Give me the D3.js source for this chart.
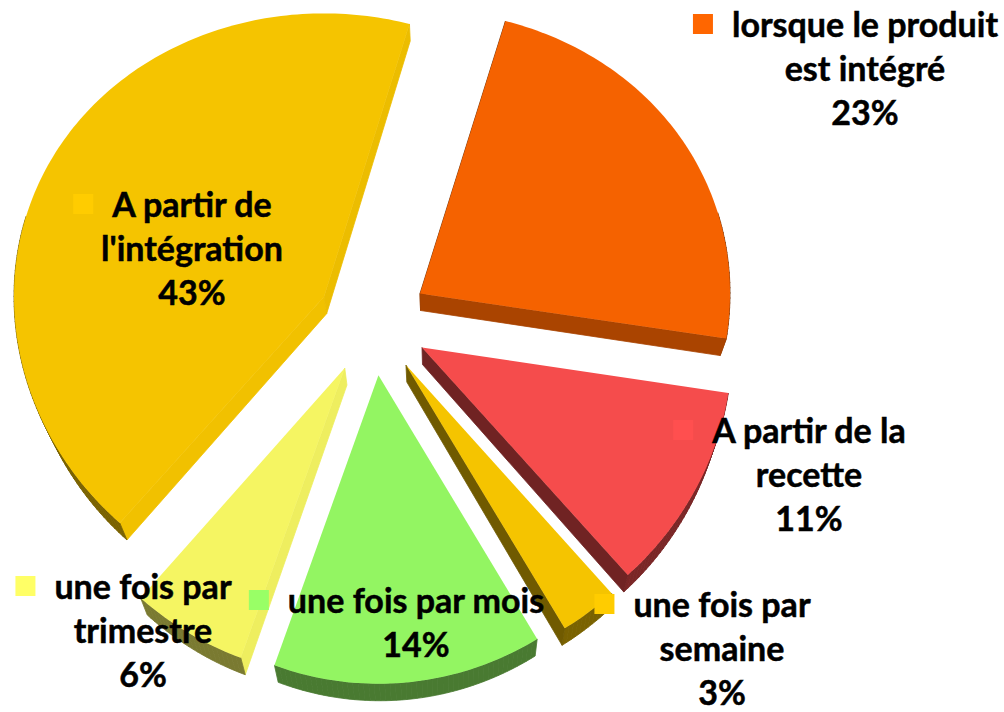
<!DOCTYPE html>
<meta charset="utf-8">
<script src="https://d3js.org/d3.v7.min.js"></script>
<style>
    body { margin: 0; background: #fff; }
    .lbl { font-family: Lato, "Liberation Sans", sans-serif; font-weight: bold; font-size: 34px; fill: #000;
           stroke: #000; stroke-width: 0.5px; }
</style>
<div id="chart"></div>
<script>
// data, in the pie's clockwise order starting near 12 o'clock
const categories = ["lorsque le produit est intégré", "A partir de la recette", "une fois par semaine",
                    "une fois par mois", "une fois par trimestre", "A partir de l'intégration"];
const values = [23, 11, 3, 14, 6, 43];
const colors = ["#FF6600", "#FF4F4F", "#FFCC00", "#99FF66", "#FFFF66", "#FFCC00"];

// where each category label breaks into lines
const wraps = [["lorsque le produit", "est intégré"], ["A partir de la", "recette"], ["une fois par", "semaine"],
               ["une fois par mois"], ["une fois par", "trimestre"], ["A partir de", "l'intégration"]];
// label anchor: centre x of the text, baseline of first line
const labelPos = [[865, 37], [809, 443], [722, 617], [416, 613], [143, 599], [192, 217]];

const width = 1004, height = 712;
const cx = 373, cy = 322, rx = 310, ryMid = 295, ryBend = 10;
const explode = 0.18, depth = 17, shrink = 0.978, vanishX = 445;
const start = 16 * Math.PI / 180;
const lineGap = 44;

const data = categories.map((c, i) => ({ name: c, value: values[i], color: colors[i], lines: wraps[i], pos: labelPos[i] }));

const pie = d3.pie().sort(null).value(d => d.value).startAngle(start).endAngle(start + 2 * Math.PI);
const arcs = pie(data);

// tilted disc -> screen (slightly bigger towards the front)
function project(u, v) {
    return [cx + rx * u, cy + ryMid * v + ryBend * v * v];
}
// bottom face: pushed down and pulled a bit towards the vanishing line
function lower(p) {
    return [vanishX + (p[0] - vanishX) * shrink, p[1] + depth];
}

function slicePoints(a) {
    const mid = (a.startAngle + a.endAngle) / 2;
    const ox = explode * Math.sin(mid), oy = -explode * Math.cos(mid);
    const pts = [project(ox, oy)];
    const n = Math.max(2, Math.ceil((a.endAngle - a.startAngle) / (Math.PI / 180)));
    for (let k = 0; k <= n; k++) {
        const t = a.startAngle + (a.endAngle - a.startAngle) * k / n;
        pts.push(project(ox + Math.sin(t), oy - Math.cos(t)));
    }
    return pts;
}

function shade(color, f) {
    const c = d3.rgb(color);
    return d3.rgb(c.r * f, c.g * f, c.b * f).formatHex();
}

const svg = d3.select("#chart").append("svg")
    .attr("width", width)
    .attr("height", height);

const line = d3.line();
const sides = svg.append("g").attr("class", "sides");
const tops = svg.append("g").attr("class", "tops");

arcs.forEach(a => {
    const pts = slicePoints(a);
    // side walls, one quad per edge segment
    for (let k = 0; k < pts.length; k++) {
        const p1 = pts[k], p2 = pts[(k + 1) % pts.length];
        const dx = p2[0] - p1[0], dy = p2[1] - p1[1];
        const len = Math.hypot(dx, dy);
        if (len < 0.01) continue;
        const nx = dy / len, ny = -dx / len;
        if (ny < -0.3) continue;
        const radial = (k === 0 || k === pts.length - 1);
        const ang = Math.atan2(nx, -ny);
        const f = radial ? 0.44 + 0.51 * Math.max(0, Math.cos(ang - 125 * Math.PI / 180)) : 0.48;
        const col = shade(a.data.color, f);
        sides.append("path")
            .attr("d", line([p1, p2, lower(p2), lower(p1)]) + "Z")
            .attr("fill", col)
            .attr("stroke", col)
            .attr("stroke-width", 0.8)
            .attr("stroke-linejoin", "round");
    }
    tops.append("path")
        .attr("d", line(pts) + "Z")
        .attr("fill", shade(a.data.color, 0.96));
});

// labels: legend key + wrapped name + percentage
const labels = svg.append("g").attr("class", "labels");
arcs.forEach(a => {
    const d = a.data;
    const g = labels.append("g");
    const lines = d.lines.concat([Math.round(d.value) + "%"]);
    let firstW = 0;
    lines.forEach((t, i) => {
        const txt = g.append("text")
            .attr("class", "lbl")
            .attr("x", d.pos[0])
            .attr("y", d.pos[1] + i * lineGap)
            .attr("text-anchor", "middle")
            .text(t);
        if (i === 0) firstW = txt.node().getComputedTextLength();
    });
    g.append("rect")
        .attr("x", d.pos[0] - firstW / 2 - 39)
        .attr("y", d.pos[1] - 23)
        .attr("width", 20)
        .attr("height", 20)
        .attr("fill", d.color);
});
</script>
